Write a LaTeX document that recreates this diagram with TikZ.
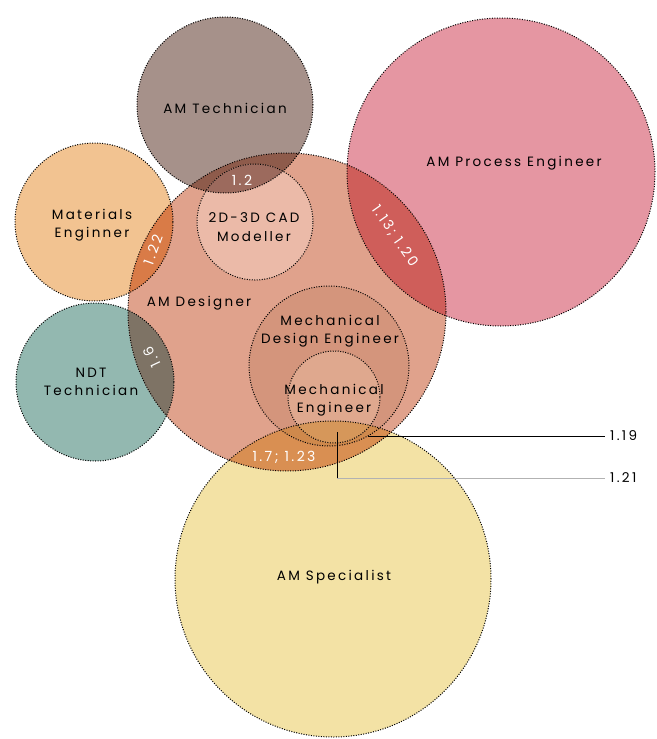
\documentclass[tikz,border=0pt]{standalone}
\usepackage{fontspec}
\setmainfont{Poppins}[LetterSpace=17]
\begin{document}
\begin{tikzpicture}[x=1pt,y=-1pt,
  outline/.style={draw=black, line width=1pt, dash pattern=on 1pt off 1.5pt},
  lbl/.style={font=\fontsize{13.5}{18.5}\selectfont, align=center, text=black, inner sep=0pt},
  lens/.style={font=\fontsize{14}{15}\selectfont, text=white, inner sep=0pt},
  leader/.style={line width=1pt}
]
\useasboundingbox (0,0) rectangle (656,739);
\fill[white] (0,0) rectangle (656,739);

\definecolor{cTech}{HTML}{A6918A}
\definecolor{cProc}{HTML}{E596A2}
\definecolor{cMat}{HTML}{F2C391}
\definecolor{cNDT}{HTML}{93B8B0}
\definecolor{cDes}{HTML}{E0A28C}
\definecolor{cSpec}{HTML}{F3E2A5}
\definecolor{cCAD}{HTML}{EBBAA8}
\definecolor{cMDE}{HTML}{D4957C}
\definecolor{cME}{HTML}{DFA88E}
\definecolor{cDesTech}{HTML}{8E5B4B}
\definecolor{cCADTech}{HTML}{9C6A5D}
\definecolor{cDesProc}{HTML}{CF5E5A}
\definecolor{cDesMat}{HTML}{D97B47}
\definecolor{cDesNDT}{HTML}{7E7365}
\definecolor{cDesSpec}{HTML}{D98F52}
\definecolor{cMDESpec}{HTML}{CF894C}
\definecolor{cMESpec}{HTML}{D6975A}

% centres
\coordinate (tech) at (225,105);
\coordinate (proc) at (501,172);
\coordinate (mat) at (94,222);
\coordinate (ndt) at (95,382);
\coordinate (des) at (287,312);
\coordinate (spec) at (333,579);
\coordinate (cad) at (255,222);
\coordinate (mde) at (329,366);
\coordinate (me) at (334,397);

% base fills
\fill[cTech] (tech) circle[radius=88pt];
\fill[cProc] (proc) circle[radius=154pt];
\fill[cMat] (mat) circle[radius=79pt];
\fill[cNDT] (ndt) circle[radius=79pt];
\fill[cSpec] (spec) circle[radius=158pt];
\fill[cDes] (des) circle[radius=159pt];

% designer lenses
\begin{scope}\clip (des) circle[radius=159pt];
  \fill[cDesTech] (tech) circle[radius=88pt];
  \fill[cDesProc] (proc) circle[radius=154pt];
  \fill[cDesMat] (mat) circle[radius=79pt];
  \fill[cDesNDT] (ndt) circle[radius=79pt];
  \fill[cDesSpec] (spec) circle[radius=158pt];
\end{scope}

% inner circles
\fill[cCAD] (cad) circle[radius=58pt];
\begin{scope}\clip (cad) circle[radius=58pt];
  \fill[cCADTech] (tech) circle[radius=88pt];
\end{scope}
\fill[cMDE] (mde) circle[radius=80pt];
\begin{scope}\clip (mde) circle[radius=80pt];
  \fill[cMDESpec] (spec) circle[radius=158pt];
\end{scope}
\fill[cME] (me) circle[radius=46pt];
\begin{scope}\clip (me) circle[radius=46pt];
  \fill[cMESpec] (spec) circle[radius=158pt];
\end{scope}

% outlines (circle nodes)
\node[circle, outline, minimum size=176pt, inner sep=0pt] (Tech) at (tech) {};
\node[circle, outline, minimum size=308pt, inner sep=0pt] (Proc) at (proc) {};
\node[circle, outline, minimum size=158pt, inner sep=0pt] (Mat) at (mat) {};
\node[circle, outline, minimum size=158pt, inner sep=0pt] (NDT) at (ndt) {};
\node[circle, outline, minimum size=316pt, inner sep=0pt] (Spec) at (spec) {};
\node[circle, outline, minimum size=318pt, inner sep=0pt] (Des) at (des) {};
\node[circle, outline, minimum size=116pt, inner sep=0pt] (CAD) at (cad) {};
\node[circle, outline, minimum size=160pt, inner sep=0pt] (MDE) at (mde) {};
\node[circle, outline, minimum size=92pt, inner sep=0pt] (ME) at (me) {};

% labels
\node[lbl] (tTech) at (225,108) {AM Technician};
\node[lbl] (tProc) at (514,163) {AM Process Engineer};
\node[lbl] (tMat) at (92,225) {Materials\\Enginner};
\node[lbl] (tNDT) at (91,382) {NDT\\Technician};
\node[lbl] (tCAD) at (254,227) {2D-3D CAD\\Modeller};
\node[lbl] (tDes) at (199,303) {AM Designer};
\node[lbl] (tMDE) at (330,331) {Mechanical\\Design Engineer};
\node[lbl] (tME) at (334,400) {Mechanical\\Engineer};
\node[lbl] (tSpec) at (334,577) {AM Specialist};

% lens labels
\node[lens] (l12) at (242,180) {1.2};
\node[lens, rotate=70] (l122) at (153,250) {1.22};
\node[lens, rotate=-55] (l113) at (395,236) {1.13; 1.20};
\node[lens, rotate=115] (l16) at (152,357) {1.6};
\node[lens] (l17) at (284,457) {1.7; 1.23};

% leaders
\coordinate (p119) at (368,436);
\coordinate (q119) at (605,436);
\coordinate (p121) at (337,432);
\coordinate (k121) at (337,478);
\coordinate (q121) at (605,478);
\node[lbl, anchor=west] (t119) at (610,436) {1.19};
\node[lbl, anchor=west] (t121) at (610,478) {1.21};
\draw[leader] (p119) -- (q119);
\draw[leader] (p121) -- (k121);
\draw[leader, gray!60] (k121) -- (q121);
\end{tikzpicture}
\end{document}
